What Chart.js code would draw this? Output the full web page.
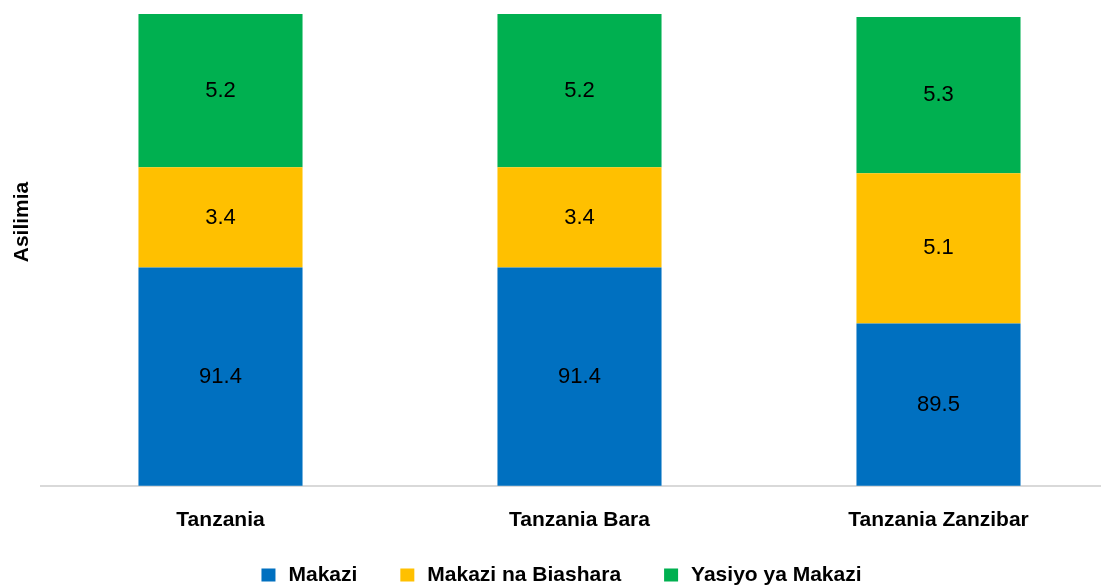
<!DOCTYPE html>
<html lang="en">
<head>
    <meta charset="UTF-8">
    <title>Asilimia ya Majengo</title>
    <script src="https://cdn.jsdelivr.net/npm/chart.js"></script>
    <style>
        html, body { margin: 0; padding: 0; background: #fff; overflow: hidden; }
        .chart-wrap { position: relative; width: 1120px; height: 588px; }
    </style>
</head>
<body>
    <div class="chart-wrap">
        <canvas id="buildingChart"></canvas>
    </div>

    <script>
        // Data
        const categories = ['Tanzania', 'Tanzania Bara', 'Tanzania Zanzibar'];
        const makazi = [91.4, 91.4, 89.5];
        const makaziNaBiashara = [3.4, 3.4, 5.1];
        const yasiyoYaMakazi = [5.2, 5.2, 5.3];
        const seriesNames = ['Makazi', 'Makazi na Biashara', 'Yasiyo ya Makazi'];
        const seriesColors = ['#0070C0', '#FFC000', '#00B050'];
        const yTitle = 'Asilimia';

        const FONT = "'Liberation Sans', Arial, sans-serif";

        // Value labels in the middle of each bar segment
        const centerLabels = {
            id: 'centerLabels',
            afterDatasetsDraw(chart) {
                const ctx = chart.ctx;
                const bottom = chart.chartArea.bottom;
                ctx.save();
                ctx.font = '22px ' + FONT;
                ctx.fillStyle = '#000';
                ctx.textAlign = 'center';
                ctx.textBaseline = 'middle';
                chart.data.datasets.forEach((ds, i) => {
                    chart.getDatasetMeta(i).data.forEach((bar, j) => {
                        const base = Math.min(bar.base, bottom);
                        ctx.fillText(ds.data[j].toFixed(1), bar.x, (bar.y + base) / 2);
                    });
                });
                ctx.restore();
            }
        };

        // Y title and legend, placed like the original
        const extras = {
            id: 'extras',
            afterDraw(chart) {
                const ctx = chart.ctx;
                ctx.save();
                ctx.fillStyle = '#000';
                ctx.font = 'bold 21px ' + FONT;
                ctx.textBaseline = 'middle';

                // y title
                ctx.save();
                ctx.translate(22, 222);
                ctx.rotate(-Math.PI / 2);
                ctx.textAlign = 'center';
                ctx.fillText(yTitle, 0, 0);
                ctx.restore();

                // legend
                const boxW = 14, boxH = 13, textGap = 13, itemGap = 43;
                const widths = seriesNames.map(n => ctx.measureText(n).width);
                let total = 0;
                widths.forEach((w, i) => { total += boxW + textGap + w + (i < widths.length - 1 ? itemGap : 0); });
                let x = 561.5 - total / 2;
                const y = 575;
                ctx.textAlign = 'left';
                seriesNames.forEach((name, i) => {
                    ctx.fillStyle = seriesColors[i];
                    ctx.fillRect(x, y - boxH / 2, boxW, boxH);
                    ctx.fillStyle = '#000';
                    ctx.fillText(name, x + boxW + textGap, y);
                    x += boxW + textGap + widths[i] + itemGap;
                });
                ctx.restore();
            }
        };

        const ctx = document.getElementById('buildingChart').getContext('2d');
        new Chart(ctx, {
            type: 'bar',
            data: {
                labels: categories,
                datasets: [
                    { label: seriesNames[0], data: makazi, backgroundColor: seriesColors[0] },
                    { label: seriesNames[1], data: makaziNaBiashara, backgroundColor: seriesColors[1] },
                    { label: seriesNames[2], data: yasiyoYaMakazi, backgroundColor: seriesColors[2] }
                ]
            },
            options: {
                responsive: true,
                maintainAspectRatio: false,
                animation: false,
                layout: { padding: { top: 14, right: 2, left: 41, bottom: 41 } },
                datasets: {
                    bar: { categoryPercentage: 1, barPercentage: 0.457 }
                },
                scales: {
                    x: {
                        stacked: true,
                        grid: { display: false },
                        border: { display: true, color: '#d9d9d9', width: 2 },
                        ticks: {
                            color: '#000',
                            padding: 14,
                            font: { family: FONT, size: 21, weight: 'bold' }
                        }
                    },
                    y: {
                        display: false,
                        stacked: true,
                        min: 84,
                        max: 100
                    }
                },
                plugins: {
                    legend: { display: false },
                    tooltip: { enabled: false }
                }
            },
            plugins: [centerLabels, extras]
        });
    </script>
</body>
</html>
